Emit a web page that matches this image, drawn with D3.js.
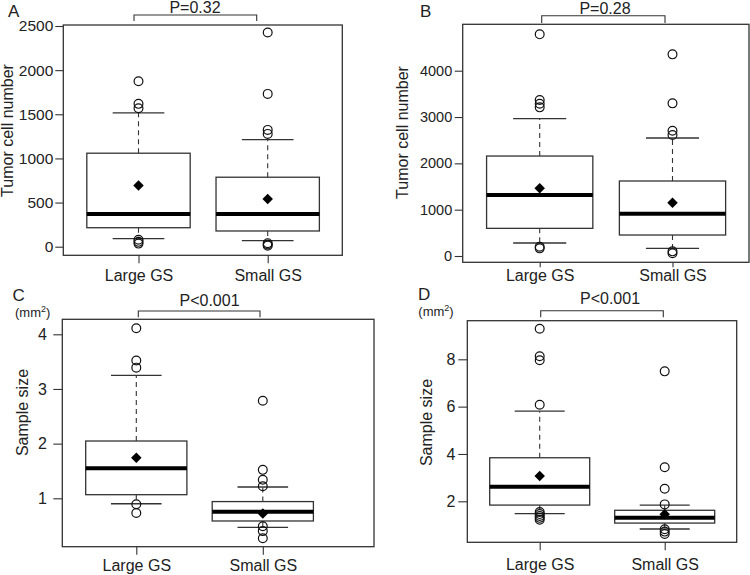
<!DOCTYPE html>
<html>
<head>
<meta charset="utf-8">
<script src="https://cdn.jsdelivr.net/npm/d3@7"></script>
<style>
  body { margin: 0; background: #fff; }
  svg { display: block; font-family: "Liberation Sans", Arial, sans-serif; }
</style>
</head>
<body>
<div id="chart"></div>
<script>
// Data
const groups = ['Large GS', 'Small GS'];
const panelLetters = ['A', 'B', 'C', 'D'];
const pLabels = ['P=0.32', 'P=0.28', 'P<0.001', 'P<0.001'];
const yTitles = ['Tumor cell number', 'Tumor cell number', 'Sample size', 'Sample size'];

const ticksA = [0, 500, 1000, 1500, 2000, 2500];
const ticksB = [0, 1000, 2000, 3000, 4000];
const ticksC = [1, 2, 3, 4];
const ticksD = [2, 4, 6, 8];

// lo = lower whisker, hi = upper whisker
const boxA = [
  { lo: 91, q1: 215, med: 371, q3: 1059, hi: 1516 },
  { lo: 68, q1: 178, med: 371, q3: 787, hi: 1213 }
];
const meansA = [692, 541];
const outliersA = [[1875, 1618, 1569, 78, 55, 35], [2426, 1731, 1323, 1278, 40, 25, 12]];

const boxB = [
  { lo: 281, q1: 597, med: 1317, q3: 2158, hi: 2964 },
  { lo: 166, q1: 453, med: 913, q3: 1619, hi: 2547 }
];
const meansB = [1461, 1151];
const outliersB = [[4785, 3367, 3288, 3209, 200, 165], [4353, 3295, 2705, 2612, 100, 60]];

const boxC = [
  { lo: 0.90, q1: 1.066, med: 1.549, q3: 2.048, hi: 3.25 },
  { lo: 0.469, q1: 0.585, med: 0.755, q3: 0.94, hi: 1.207 }
];
const meansC = [1.743, 0.72];
const outliersC = [[4.11, 3.52, 3.39, 0.89, 0.73], [2.785, 1.52, 1.34, 1.22, 0.49, 0.40, 0.27]];

const boxD = [
  { lo: 1.48, q1: 1.84, med: 2.62, q3: 3.84, hi: 5.81 },
  { lo: 0.83, q1: 1.08, med: 1.31, q3: 1.62, hi: 1.84 }
];
const meansD = [3.07, 1.45];
const outliersD = [[9.29, 8.13, 7.96, 6.08, 1.55, 1.46, 1.38, 1.30, 1.22], [7.49, 3.44, 2.53, 1.87, 0.82, 0.72, 0.62]];

const panelData = [
  { ticks: ticksA, boxes: boxA, means: meansA, outliers: outliersA },
  { ticks: ticksB, boxes: boxB, means: meansB, outliers: outliersB },
  { ticks: ticksC, boxes: boxC, means: meansC, outliers: outliersC },
  { ticks: ticksD, boxes: boxD, means: meansD, outliers: outliersD }
];

// Layout (pixels) for each panel
const layout = [
  { frame: [63.3, 25, 342.3, 255.3], yPix: [246.7, 26], xPix: [138.5, 267.7], tickFont: 15.5, tickLen: 8, tickPad: 2,
    xTickLen: 8, xLabelY: 281, letter: [8, 17], unit: null, bracket: [134, 256.7, 15, 21], pText: [195, 12.5], yTitle: [12.5, 130.5] },
  { frame: [462.7, 24.3, 749, 262.3], yPix: [256, 70.7], xPix: [539.7, 672.5], tickFont: 14.5, tickLen: 8, tickPad: 2.5,
    xTickLen: 5, xLabelY: 281, letter: [420, 17.3], unit: null, bracket: [541.7, 665, 15.7, 23], pText: [605, 14], yTitle: [408, 132.5] },
  { frame: [62.3, 319.3, 374, 546.7], yPix: [498.3, 334.3], xPix: [136.3, 262.8], tickFont: 16, tickLen: 9, tickPad: 6.5,
    xTickLen: 8, xLabelY: 571, letter: [12.5, 301], unit: [15, 317], bracket: [138.3, 260, 311, 317.3], pText: [209.5, 305.7], yTitle: [28, 412.5] },
  { frame: [467.3, 320.7, 736.7, 542.3], yPix: [501.3, 359.3], xPix: [539.7, 664.7], tickFont: 16, tickLen: 9, tickPad: 3,
    xTickLen: 8, xLabelY: 570, letter: [418, 300], unit: [418.3, 316], bracket: [540.7, 663.3, 310.7, 317.3], pText: [610, 304], yTitle: [432, 422.5] }
];

const ink = '#222';
const lineCol = '#333';

const svg = d3.select('#chart').append('svg')
  .attr('width', 750)
  .attr('height', 575);

// pch 18 style filled diamond
const diamond = {
  draw(ctx, size) {
    const r = Math.sqrt(size) / 2;
    ctx.moveTo(0, -r);
    ctx.lineTo(r, 0);
    ctx.lineTo(0, r);
    ctx.lineTo(-r, 0);
    ctx.closePath();
  }
};

panelData.forEach((pd, i) => {
  const lay = layout[i];
  const [fx0, fy0, fx1, fy1] = lay.frame;
  const g = svg.append('g').attr('class', 'panel');

  const ticks = pd.ticks;
  const y = d3.scaleLinear()
    .domain([ticks[0], ticks[ticks.length - 1]])
    .range(lay.yPix);
  const x = d3.scaleLinear().domain([1, 2]).range(lay.xPix);
  const unitPx = x(2) - x(1);
  const boxW = 0.8 * unitPx;
  const capW = 0.4 * unitPx;

  // frame
  g.append('rect')
    .attr('x', fx0).attr('y', fy0)
    .attr('width', fx1 - fx0).attr('height', fy1 - fy0)
    .attr('fill', 'none')
    .attr('stroke', lineCol)
    .attr('stroke-width', 1.3);

  // y axis
  const yAxis = d3.axisLeft(y)
    .tickValues(ticks)
    .tickSize(lay.tickLen)
    .tickPadding(lay.tickPad)
    .tickFormat(d3.format('d'));
  const ya = g.append('g')
    .attr('transform', 'translate(' + fx0 + ',0)')
    .call(yAxis);
  ya.select('.domain').remove();
  ya.selectAll('line').attr('stroke', lineCol).attr('stroke-width', 1.1);
  ya.selectAll('text')
    .attr('fill', ink)
    .attr('font-size', lay.tickFont)
    .attr('font-family', '"Liberation Sans", Arial, sans-serif');

  // x axis
  const xAxis = d3.axisBottom(x)
    .tickValues([1, 2])
    .tickSize(lay.xTickLen)
    .tickFormat((d) => groups[d - 1]);
  const xa = g.append('g')
    .attr('transform', 'translate(0,' + fy1 + ')')
    .call(xAxis);
  xa.select('.domain').remove();
  xa.selectAll('line').attr('stroke', lineCol).attr('stroke-width', 1.1);
  xa.selectAll('text')
    .attr('y', lay.xLabelY - fy1)
    .attr('dy', 0)
    .attr('fill', ink)
    .attr('font-size', 16)
    .attr('font-family', '"Liberation Sans", Arial, sans-serif');

  // boxes
  const grp = g.selectAll('.grp')
    .data(pd.boxes)
    .enter()
    .append('g')
    .attr('class', 'grp');

  // whiskers (dashed)
  grp.append('line')
    .attr('x1', (d, j) => x(j + 1)).attr('x2', (d, j) => x(j + 1))
    .attr('y1', (d) => y(d.q3)).attr('y2', (d) => y(d.hi))
    .attr('stroke', lineCol).attr('stroke-width', 1.1)
    .attr('stroke-dasharray', '5,4');
  grp.append('line')
    .attr('x1', (d, j) => x(j + 1)).attr('x2', (d, j) => x(j + 1))
    .attr('y1', (d) => y(d.q1)).attr('y2', (d) => y(d.lo))
    .attr('stroke', lineCol).attr('stroke-width', 1.1)
    .attr('stroke-dasharray', '5,4');

  // caps
  ['hi', 'lo'].forEach((k) => {
    grp.append('line')
      .attr('x1', (d, j) => x(j + 1) - capW / 2)
      .attr('x2', (d, j) => x(j + 1) + capW / 2)
      .attr('y1', (d) => y(d[k])).attr('y2', (d) => y(d[k]))
      .attr('stroke', lineCol).attr('stroke-width', 1.3);
  });

  grp.append('rect')
    .attr('x', (d, j) => x(j + 1) - boxW / 2)
    .attr('y', (d) => y(d.q3))
    .attr('width', boxW)
    .attr('height', (d) => y(d.q1) - y(d.q3))
    .attr('fill', '#fff')
    .attr('stroke', lineCol)
    .attr('stroke-width', 1.3);

  grp.append('line')
    .attr('x1', (d, j) => x(j + 1) - boxW / 2)
    .attr('x2', (d, j) => x(j + 1) + boxW / 2)
    .attr('y1', (d) => y(d.med)).attr('y2', (d) => y(d.med))
    .attr('stroke', '#000').attr('stroke-width', 4);

  // outliers
  pd.outliers.forEach((arr, j) => {
    g.selectAll(null)
      .data(arr)
      .enter()
      .append('circle')
      .attr('cx', x(j + 1))
      .attr('cy', (d) => y(d))
      .attr('r', 4.4)
      .attr('fill', 'none')
      .attr('stroke', '#111')
      .attr('stroke-width', 1.2);
  });

  // means
  g.selectAll(null)
    .data(pd.means)
    .enter()
    .append('path')
    .attr('d', d3.symbol().type(diamond).size(110))
    .attr('transform', (d, j) => 'translate(' + x(j + 1) + ',' + y(d) + ')')
    .attr('fill', '#000');

  // panel letter
  g.append('text')
    .attr('x', lay.letter[0]).attr('y', lay.letter[1])
    .attr('font-size', 17)
    .attr('fill', ink)
    .text(panelLetters[i]);

  if (lay.unit) {
    const u = g.append('text')
      .attr('x', lay.unit[0]).attr('y', lay.unit[1])
      .attr('font-size', 13)
      .attr('fill', ink);
    u.append('tspan').text('(mm');
    u.append('tspan').attr('font-size', 9).attr('dy', -5).text('2');
    u.append('tspan').attr('dy', 5).text(')');
  }

  // significance bracket
  const [bx0, bx1, by, byEnd] = lay.bracket;
  g.append('path')
    .attr('d', d3.line()([[bx0, byEnd], [bx0, by], [bx1, by], [bx1, byEnd]]))
    .attr('fill', 'none')
    .attr('stroke', lineCol)
    .attr('stroke-width', 1.1);
  g.append('text')
    .attr('x', lay.pText[0]).attr('y', lay.pText[1])
    .attr('text-anchor', 'middle')
    .attr('font-size', 16)
    .attr('fill', ink)
    .text(pLabels[i]);

  // y title
  g.append('text')
    .attr('transform', 'translate(' + lay.yTitle[0] + ',' + lay.yTitle[1] + ') rotate(-90)')
    .attr('text-anchor', 'middle')
    .attr('font-size', 16)
    .attr('fill', ink)
    .text(yTitles[i]);
});
</script>
</body>
</html>
